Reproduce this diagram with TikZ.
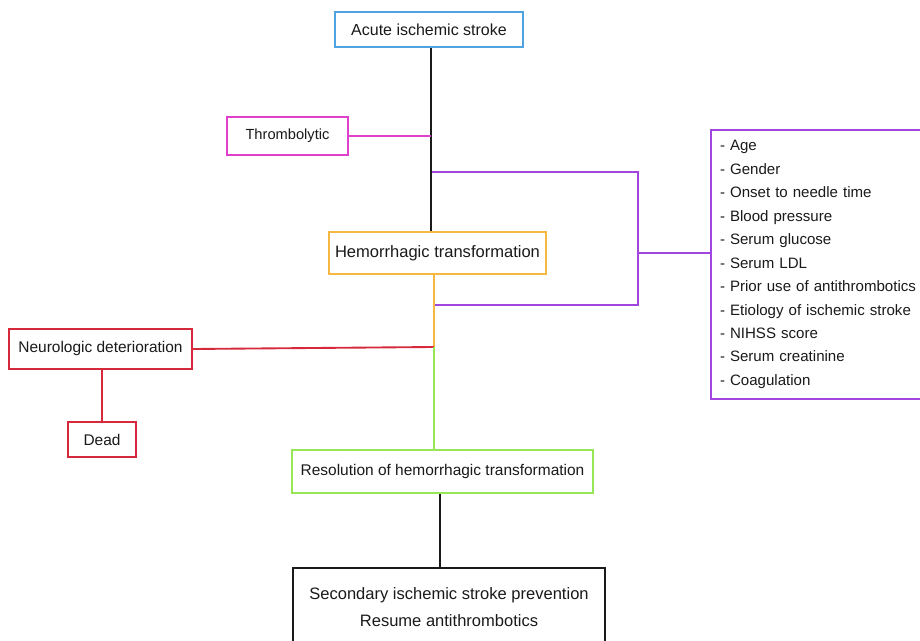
\documentclass[tikz,border=0pt]{standalone}
\usepackage{fontspec}
\setmainfont{Liberation Sans}
\usetikzlibrary{positioning, calc}
\definecolor{ink}{HTML}{1A1A1A}
\definecolor{strokeblue}{HTML}{4FA3E0}
\definecolor{thrombpink}{HTML}{E040CC}
\definecolor{factorpurple}{HTML}{A046DE}
\definecolor{hemoorange}{HTML}{F4B843}
\definecolor{neurored}{HTML}{D62A3C}
\definecolor{resolgreen}{HTML}{96E658}
\tikzset{
  stage/.style    = {rectangle, draw=ink, line width=1.5pt, fill=white, align=center,
                      font=\fontsize{11.6}{14}\selectfont, inner sep=0pt, text=ink},
  factors/.style  = {rectangle, draw=factorpurple, line width=1.5pt, fill=white, align=left,
                      font=\fontsize{11.3}{17.6}\selectfont, inner xsep=6.75pt, inner ysep=0pt,
                      text width=166pt, minimum height=201.75pt, text=ink},
  link/.style     = {line width=1.4pt, draw=ink},
}

\begin{document}
\begin{tikzpicture}[x=0.75pt, y=-0.75pt]
  \path[use as bounding box, clip] (0,0) rectangle (920,641);

  % main stages
  \node[stage, draw=strokeblue, minimum width=141pt, minimum height=26.25pt,
        font=\fontsize{12}{14}\selectfont] (acute) at (429,29.5) {Acute ischemic stroke};
  \node[stage, draw=thrombpink, minimum width=90.75pt, minimum height=28.5pt,
        font=\fontsize{11}{14}\selectfont] (thromb) at (287.5,136) {Thrombolytic};
  \node[stage, draw=hemoorange, minimum width=162.75pt, minimum height=31.5pt,
        font=\fontsize{12.4}{14}\selectfont] (hemo) at (437.5,253) {Hemorrhagic transformation};
  \node[stage, draw=neurored, minimum width=137.25pt, minimum height=30pt] (neuro) at (100.5,349) {Neurologic deterioration};
  \node[stage, draw=neurored, minimum width=51pt, minimum height=26.25pt] (dead) at (102,439.5) {Dead};
  \node[stage, draw=resolgreen, minimum width=225.75pt, minimum height=32.25pt] (resol) at (442.5,471.5) {Resolution of hemorrhagic transformation};
  \node[stage, minimum width=234pt, minimum height=58.5pt, font=\fontsize{12.4}{20.25}\selectfont,
        anchor=north] (second) at (449,567) {Secondary ischemic stroke prevention\\Resume antithrombotics};

  % risk factors
  \node[factors, anchor=north west] (riskfactors) at (710,129) {%
    - Age\\- Gender\\- Onset to needle time\\- Blood pressure\\- Serum glucose\\- Serum LDL\\
    - Prior use of antithrombotics\\- Etiology of ischemic stroke\\- NIHSS score\\
    - Serum creatinine\\- Coagulation};

  \coordinate (tj) at (431,136);
  \coordinate (ptop) at (432,172);
  \coordinate (pbar) at (638,253);
  \coordinate (pbot) at (434,305);
  \coordinate (rj) at (434,347);
  \coordinate (sj) at (440,530);

  \draw[link] (acute.south -| tj) -- (hemo.north -| tj);
  \draw[link, draw=thrombpink] (thromb.east) -- (tj);
  \draw[link, draw=factorpurple] (ptop) -| (pbar) |- (pbot);
  \draw[link, draw=factorpurple] (pbar) -- (pbar -| riskfactors.west);
  \draw[link, draw=hemoorange] (hemo.south -| rj) -- (rj);
  \draw[link, draw=neurored] (neuro.east) -- (rj);
  \draw[link, draw=neurored] (dead.north) -- (dead.north |- neuro.south);
  \draw[link, draw=resolgreen] (rj) -- (resol.north -| rj);
  \draw[link] (resol.south -| sj) -- (second.north -| sj);
\end{tikzpicture}
\end{document}
